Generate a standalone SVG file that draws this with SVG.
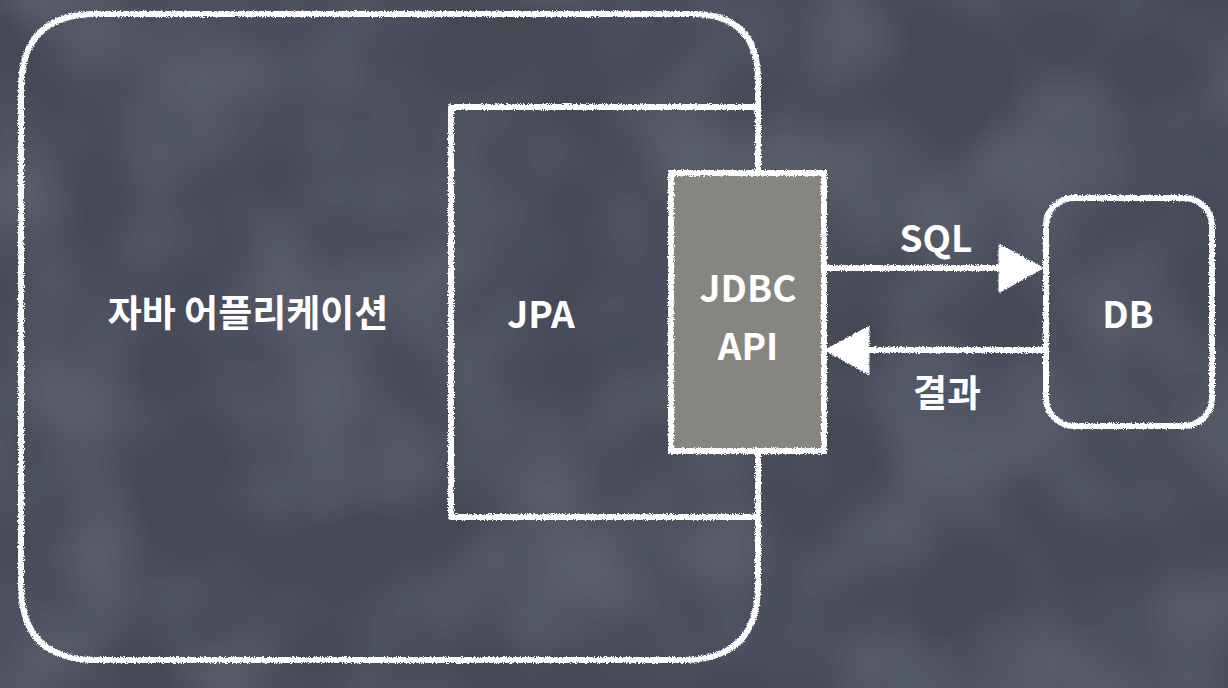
<svg xmlns="http://www.w3.org/2000/svg" width="1228" height="688" viewBox="0 0 1228 688">
  <defs>
    <filter id="chalk" x="-5%" y="-5%" width="110%" height="110%">
      <feTurbulence type="fractalNoise" baseFrequency="0.9" numOctaves="2" seed="3" result="n"/>
      <feDisplacementMap in="SourceGraphic" in2="n" scale="4" xChannelSelector="R" yChannelSelector="G"/>
    </filter>
    <filter id="board" x="0" y="0" width="100%" height="100%">
      <feTurbulence type="fractalNoise" baseFrequency="0.008" numOctaves="2" seed="7" result="t"/>
      <feColorMatrix in="t" type="matrix" values="0 0 0 0 0.32  0 0 0 0 0.34  0 0 0 0 0.41  0 0 0 0.35 -0.12" result="c"/>
      <feComposite in="c" in2="SourceGraphic" operator="over"/>
    </filter>
    <style>
      .ln { fill: none; stroke: #ffffff; stroke-width: 6; stroke-linejoin: round; }
      .tx { font-family: "Noto Sans CJK KR", "Noto Sans", sans-serif; font-weight: 700; font-size: 37px; fill: #ffffff; text-anchor: middle; dominant-baseline: central; }
    </style>
  </defs>
  <rect width="1228" height="688" fill="#444957" filter="url(#board)"/>

  <g id="app">
    <g filter="url(#chalk)">
      <path class="ln" d="M758,107 L758,80 Q758,14 692,14 L96,14 Q21,14 21,89 L21,585 Q21,660 96,660 L683,660 Q758,660 758,585 L758,517"/>
      <path class="ln" d="M758,451 L758,517"/>
      <path class="ln" d="M758,107 L758,173"/>
    </g>
    <text class="tx" x="248" y="311">자바 어플리케이션</text>
  </g>

  <g id="jpa">
    <path class="ln" filter="url(#chalk)" d="M758,107 L451,107 L451,517 L758,517"/>
    <text class="tx" x="541" y="312">JPA</text>
  </g>

  <g id="jdbc">
    <rect x="671" y="173" width="153" height="278" fill="#868580" stroke="#fff" stroke-width="6" filter="url(#chalk)"/>
    <text class="tx" x="748" y="286">JDBC</text>
    <text class="tx" x="748" y="344">API</text>
  </g>

  <g id="db">
    <rect x="1046" y="198" width="166" height="228" rx="28" class="ln" filter="url(#chalk)"/>
    <text class="tx" x="1128" y="312">DB</text>
  </g>

  <g id="connectors">
    <g filter="url(#chalk)">
      <line x1="826" y1="268" x2="1005" y2="268" class="ln"/>
      <path d="M1000,246 L1041,268 L1000,291 Z" fill="#fff" stroke="#fff" stroke-width="3" stroke-linejoin="round"/>
      <line x1="1044" y1="350" x2="866" y2="350" class="ln"/>
      <path d="M868,328 L827,350 L868,373 Z" fill="#fff" stroke="#fff" stroke-width="3" stroke-linejoin="round"/>
    </g>
    <text class="tx" x="936" y="236">SQL</text>
    <text class="tx" x="947" y="391">결과</text>
  </g>
</svg>
